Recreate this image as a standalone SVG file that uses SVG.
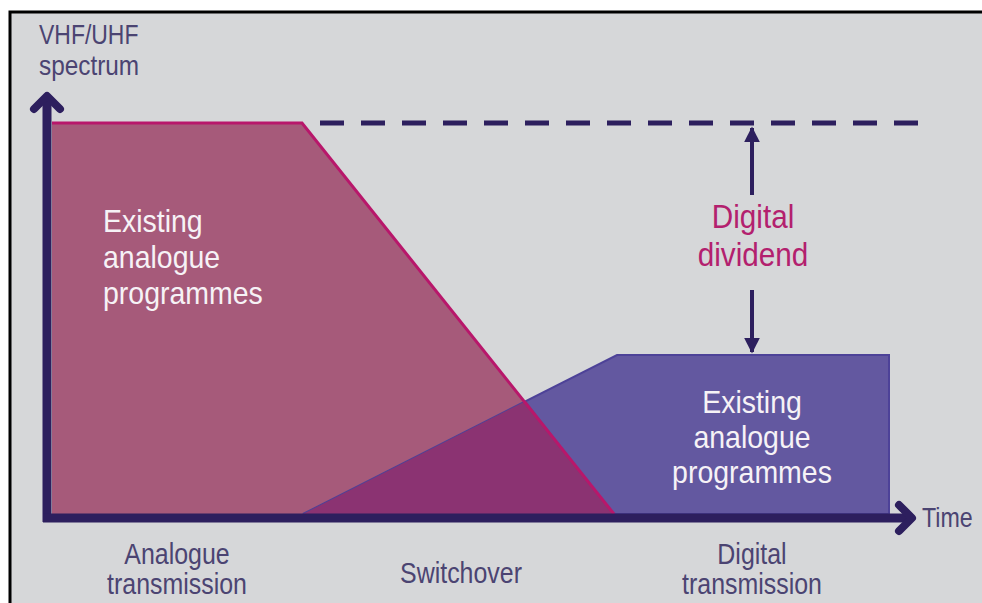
<svg xmlns="http://www.w3.org/2000/svg" width="982" height="603" viewBox="0 0 982 603">
<style>
text{font-family:"Liberation Sans",Arial,sans-serif}
.lbl{fill:#4b4472}
.wht{fill:#f6f2f6;font-size:32px}
.div{fill:#b3206e;font-size:33px}
.axis{stroke:#2d1f5e;fill:none}
</style>
<defs>
<marker id="ah" viewBox="0 0 10 10" refX="9" refY="5" markerWidth="4" markerHeight="4" orient="auto">
<path d="M0,0 L10,5 L0,10 z" fill="#2d1f5e"/>
</marker>
</defs>
<rect x="0" y="0" width="982" height="603" fill="#ffffff"/>
<rect x="10" y="12" width="980" height="600" fill="#d6d7d9" stroke="#000000" stroke-width="3"/>

<g id="analogue-area">
<polygon points="52,123 302,123 614,514 52,514" fill="#a65a7a"/>
</g>
<g id="digital-area">
<polygon points="303,514 617,355 889,355 889,514" fill="#6358a0" stroke="#4d4298" stroke-width="2"/>
<polygon points="303,514 526,401 614,514" fill="#8b3372"/>
<polyline points="52,123 302,123 614,514" fill="none" stroke="#b8176b" stroke-width="3"/>
</g>

<g id="connectors">
<line x1="320" y1="123" x2="918" y2="123" stroke="#2d1f5e" stroke-width="5" stroke-dasharray="24 17"/>
<line x1="752" y1="195" x2="752" y2="128" stroke="#2d1f5e" stroke-width="4" marker-end="url(#ah)"/>
<line x1="752" y1="290" x2="752" y2="352" stroke="#2d1f5e" stroke-width="4" marker-end="url(#ah)"/>
</g>

<g id="axes">
<line class="axis" x1="47" y1="99" x2="47" y2="522" stroke-width="9"/>
<polyline class="axis" points="34,109 47,96 60,109" stroke-width="8" stroke-linecap="round" stroke-linejoin="round"/>
<line class="axis" x1="43" y1="518" x2="911" y2="518" stroke-width="9"/>
<polyline class="axis" points="899,505 912,518 899,531" stroke-width="8" stroke-linecap="round" stroke-linejoin="round"/>
</g>

<g id="y-label">
<text class="lbl" transform="translate(39,44) scale(0.82,1)" font-size="28">VHF/UHF</text>
<text class="lbl" transform="translate(39,75) scale(0.87,1)" font-size="28">spectrum</text>
</g>
<g id="x-label">
<text class="lbl" transform="translate(922,527) scale(0.86,1)" font-size="27">Time</text>
</g>

<g id="analogue-text">
<text class="wht" transform="translate(103,232) scale(0.89,1)">Existing</text>
<text class="wht" transform="translate(103,268) scale(0.89,1)">analogue</text>
<text class="wht" transform="translate(103,304) scale(0.89,1)">programmes</text>
</g>
<g id="digital-text">
<text class="wht" transform="translate(752,413) scale(0.89,1)" text-anchor="middle">Existing</text>
<text class="wht" transform="translate(752,448) scale(0.89,1)" text-anchor="middle">analogue</text>
<text class="wht" transform="translate(752,483) scale(0.89,1)" text-anchor="middle">programmes</text>
</g>
<g id="digital-dividend">
<text class="div" transform="translate(753,228) scale(0.9,1)" text-anchor="middle">Digital</text>
<text class="div" transform="translate(753,266) scale(0.9,1)" text-anchor="middle">dividend</text>
</g>

<g id="phase-labels">
<text class="lbl" transform="translate(177,564) scale(0.86,1)" font-size="29" text-anchor="middle">Analogue</text>
<text class="lbl" transform="translate(177,594) scale(0.86,1)" font-size="29" text-anchor="middle">transmission</text>
<text class="lbl" transform="translate(461,583) scale(0.86,1)" font-size="29" text-anchor="middle">Switchover</text>
<text class="lbl" transform="translate(752,564) scale(0.86,1)" font-size="29" text-anchor="middle">Digital</text>
<text class="lbl" transform="translate(752,594) scale(0.86,1)" font-size="29" text-anchor="middle">transmission</text>
</g>
</svg>
